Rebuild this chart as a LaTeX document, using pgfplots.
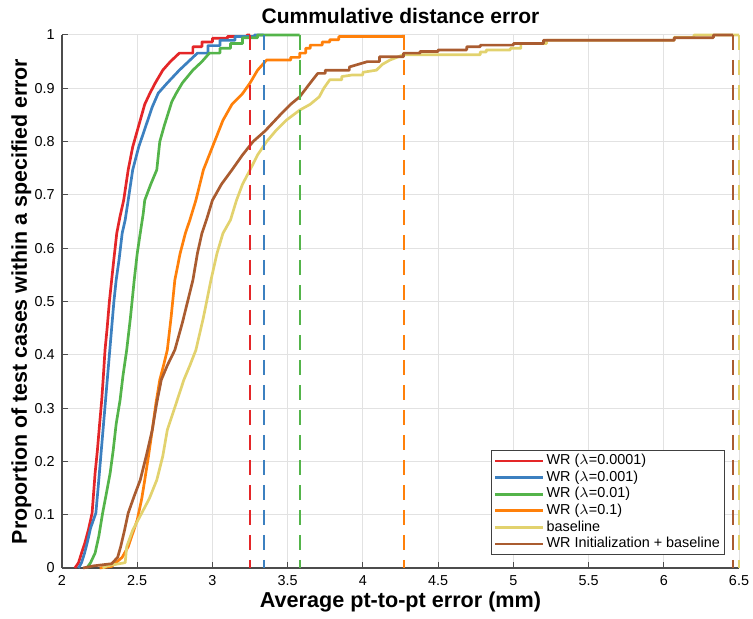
\documentclass[border=0pt]{standalone}
\usepackage{fontspec}
\setmainfont{Liberation Sans}
\usepackage{pgfplots}
\pgfplotsset{compat=1.18}

\definecolor{cRed}{RGB}{228,38,40}
\definecolor{cBlue}{RGB}{60,128,192}
\definecolor{cGreen}{RGB}{84,180,74}
\definecolor{cOrange}{RGB}{255,128,10}
\definecolor{cYellow}{RGB}{226,210,110}
\definecolor{cBrown}{RGB}{170,92,48}
\definecolor{gridc}{RGB}{226,226,226}

\tikzset{maxline/.style={line width=1pt, dash pattern=on 7.5pt off 5pt}}

\begin{document}
\begin{tikzpicture}
\path[use as bounding box] (0,0) rectangle (376.5pt,309.5pt);
\begin{axis}[
  at={(31pt,25.5pt)}, anchor=south west,
  scale only axis, width=338.5pt, height=266.5pt,
  xmin=2, xmax=6.5, ymin=0, ymax=1,
  clip=false,
  axis lines=left,
  axis line style={-, draw=black!70, line width=0.6pt},
  xtick={2,2.5,...,6.5}, ytick={0,0.1,...,1},
  /pgf/number format/fixed,
  /pgf/number format/assume math mode=true,
  tick align=inside, major tick length=3pt,
  tick style={draw=black!70, line width=0.5pt},
  ticklabel style={font=\fontsize{7.2}{8}\selectfont},
  xticklabel style={inner sep=0pt, yshift=-3.5pt},
  yticklabel style={inner sep=0pt, xshift=-3.5pt},
  grid=major,
  major grid style={draw=gridc, line width=0.5pt},
  every axis plot/.append style={line width=1.35pt, line join=round},
  legend style={at={(0.979,0.024)}, anchor=south east,
    font=\fontsize{7.2}{8}\selectfont, draw=black!75, line width=0.5pt,
    inner sep=1.2pt, row sep=0pt, fill=white,
    nodes={inner sep=1pt, text height=5pt, text depth=1.3pt}},
  legend cell align=left,
  legend image code/.code={\draw[#1, line width=1.35pt] (0pt,0pt) -- (24pt,0pt);},
]

% empirical CDFs of the per-case error
\addplot[cRed] coordinates {
(2.086,0) (2.11,0.01) (2.13,0.028) (2.15,0.045) (2.175,0.071) (2.19,0.09)
(2.20,0.103) (2.21,0.14) (2.22,0.178) (2.235,0.22) (2.25,0.27) (2.264,0.315)
(2.275,0.36) (2.286,0.409) (2.30,0.45) (2.315,0.50) (2.33,0.54) (2.345,0.58)
(2.364,0.628) (2.386,0.66) (2.41,0.69) (2.44,0.747) (2.47,0.79) (2.52,0.84)
(2.55,0.87) (2.585,0.891) (2.62,0.91) (2.67,0.934) (2.72,0.95) (2.78,0.966)
(2.87,0.966) (2.87,0.978) (2.93,0.978) (2.93,0.987) (3.0,0.987) (3.0,0.994)
(3.1,0.994) (3.1,0.997) (3.23,0.997) (3.23,1) (3.25,1)};
\addlegendentry{WR ($\lambda$=0.0001)}

\addplot[cBlue] coordinates {
(2.11,0) (2.13,0.01) (2.15,0.028) (2.17,0.05) (2.19,0.075) (2.225,0.103)
(2.24,0.15) (2.255,0.2) (2.27,0.25) (2.285,0.30) (2.30,0.35) (2.315,0.40)
(2.33,0.45) (2.345,0.50) (2.36,0.54) (2.38,0.58) (2.40,0.628) (2.42,0.653)
(2.44,0.69) (2.47,0.747) (2.51,0.79) (2.57,0.84) (2.60,0.865) (2.64,0.891)
(2.70,0.91) (2.78,0.934) (2.84,0.95) (2.90,0.966) (2.97,0.966) (2.97,0.98)
(3.05,0.98) (3.05,0.99) (3.15,0.99) (3.15,0.997) (3.28,0.997) (3.28,1) (3.34,1)};
\addlegendentry{WR ($\lambda$=0.001)}

\addplot[cGreen] coordinates {
(2.165,0) (2.19,0.01) (2.22,0.028) (2.245,0.06) (2.27,0.103) (2.295,0.14)
(2.32,0.178) (2.34,0.22) (2.36,0.27) (2.386,0.315) (2.405,0.36) (2.43,0.409)
(2.455,0.47) (2.48,0.54) (2.50,0.59) (2.52,0.628) (2.54,0.665) (2.55,0.69)
(2.59,0.72) (2.63,0.747) (2.65,0.80) (2.68,0.83) (2.73,0.875) (2.76,0.891)
(2.80,0.91) (2.87,0.934) (2.93,0.95) (2.98,0.966) (3.05,0.966) (3.05,0.975)
(3.12,0.975) (3.12,0.984) (3.2,0.984) (3.2,0.995) (3.3,0.995) (3.3,1) (3.58,1)};
\addlegendentry{WR ($\lambda$=0.01)}

\addplot[cOrange] coordinates {
(2.25,0) (2.33,0.003) (2.40,0.02) (2.44,0.04) (2.47,0.065) (2.50,0.09)
(2.53,0.13) (2.55,0.165) (2.575,0.21) (2.60,0.259) (2.625,0.31) (2.65,0.353)
(2.675,0.38) (2.70,0.409) (2.725,0.47) (2.75,0.54) (2.785,0.59) (2.82,0.628)
(2.85,0.653) (2.89,0.69) (2.94,0.747) (3.0,0.79) (3.07,0.84) (3.13,0.87)
(3.2,0.89) (3.25,0.91) (3.30,0.934) (3.36,0.953) (3.52,0.953) (3.52,0.958)
(3.58,0.958) (3.58,0.966) (3.62,0.966) (3.62,0.975) (3.65,0.975) (3.65,0.981)
(3.73,0.981) (3.73,0.987) (3.78,0.987) (3.78,0.991) (3.84,0.991) (3.84,0.997)
(4.27,0.997) (4.27,1)};
\addlegendentry{WR ($\lambda$=0.1)}

\addplot[cYellow] coordinates {
(2.27,0) (2.30,0.004) (2.42,0.01) (2.43,0.04) (2.47,0.071) (2.53,0.103)
(2.58,0.13) (2.63,0.165) (2.67,0.21) (2.70,0.259) (2.76,0.31) (2.81,0.353)
(2.85,0.38) (2.89,0.409) (2.94,0.47) (2.99,0.54) (3.03,0.59) (3.07,0.628)
(3.12,0.653) (3.16,0.69) (3.2,0.72) (3.25,0.747) (3.30,0.775) (3.36,0.80)
(3.42,0.82) (3.49,0.84) (3.58,0.859) (3.65,0.87) (3.71,0.884) (3.74,0.90)
(3.78,0.916) (3.86,0.916) (3.86,0.922) (3.93,0.925) (4.0,0.925) (4.0,0.930)
(4.09,0.934) (4.13,0.945) (4.18,0.953) (4.27,0.963) (4.78,0.963) (4.78,0.968)
(4.82,0.968) (4.82,0.972) (4.98,0.972) (4.98,0.975) (5.05,0.975) (5.05,0.984)
(5.22,0.984) (5.22,0.99) (6.07,0.99) (6.07,0.996) (6.2,0.996) (6.2,1) (6.5,1)};
\addlegendentry{baseline}

\addplot[cBrown] coordinates {
(2.14,0) (2.21,0.004) (2.33,0.008) (2.37,0.02) (2.39,0.04) (2.415,0.07)
(2.44,0.103) (2.48,0.135) (2.52,0.165) (2.56,0.21) (2.60,0.259) (2.63,0.31)
(2.66,0.353) (2.70,0.38) (2.75,0.409) (2.80,0.46) (2.87,0.54) (2.90,0.59)
(2.93,0.628) (2.96,0.653) (3.0,0.69) (3.06,0.72) (3.13,0.747) (3.20,0.775)
(3.27,0.80) (3.35,0.82) (3.45,0.85) (3.52,0.87) (3.58,0.884) (3.65,0.91)
(3.70,0.928) (3.75,0.928) (3.75,0.934) (3.91,0.934) (3.91,0.94) (3.97,0.945)
(4.03,0.950) (4.11,0.950) (4.11,0.959) (4.27,0.959) (4.27,0.966) (4.38,0.966)
(4.38,0.969) (4.50,0.969) (4.50,0.972) (4.69,0.972) (4.69,0.978) (4.78,0.978)
(4.78,0.981) (5.0,0.981) (5.0,0.984) (5.2,0.984) (5.2,0.99) (6.07,0.99)
(6.07,0.995) (6.33,0.995) (6.33,1) (6.46,1)};
\addlegendentry{WR Initialization + baseline}

% maximum error of each method
\addplot[cRed, maxline, forget plot] coordinates {(3.25,1) (3.25,0)};
\addplot[cBlue, maxline, forget plot] coordinates {(3.34,1) (3.34,0)};
\addplot[cGreen, maxline, forget plot] coordinates {(3.58,1) (3.58,0)};
\addplot[cOrange, maxline, forget plot] coordinates {(4.27,1) (4.27,0)};
\addplot[cBrown, maxline, forget plot] coordinates {(6.46,1) (6.46,0)};
\addplot[cYellow, maxline, forget plot] coordinates {(6.5,1) (6.5,0)};

\node[anchor=base, inner sep=0pt, font=\bfseries\fontsize{10.5}{12}\selectfont]
  at ([yshift=5.5pt]rel axis cs:0.5,1) {Cummulative distance error};
\node[anchor=base, inner sep=0pt, font=\bfseries\fontsize{10.8}{12}\selectfont]
  at ([yshift=-20pt]rel axis cs:0.5,0) {Average pt-to-pt error (mm)};
\node[anchor=base, rotate=90, inner sep=0pt, font=\bfseries\fontsize{10.7}{12}\selectfont]
  at ([xshift=-17.5pt]rel axis cs:0,0.5) {Proportion of test cases within a specified error};
\end{axis}
\end{tikzpicture}
\end{document}
